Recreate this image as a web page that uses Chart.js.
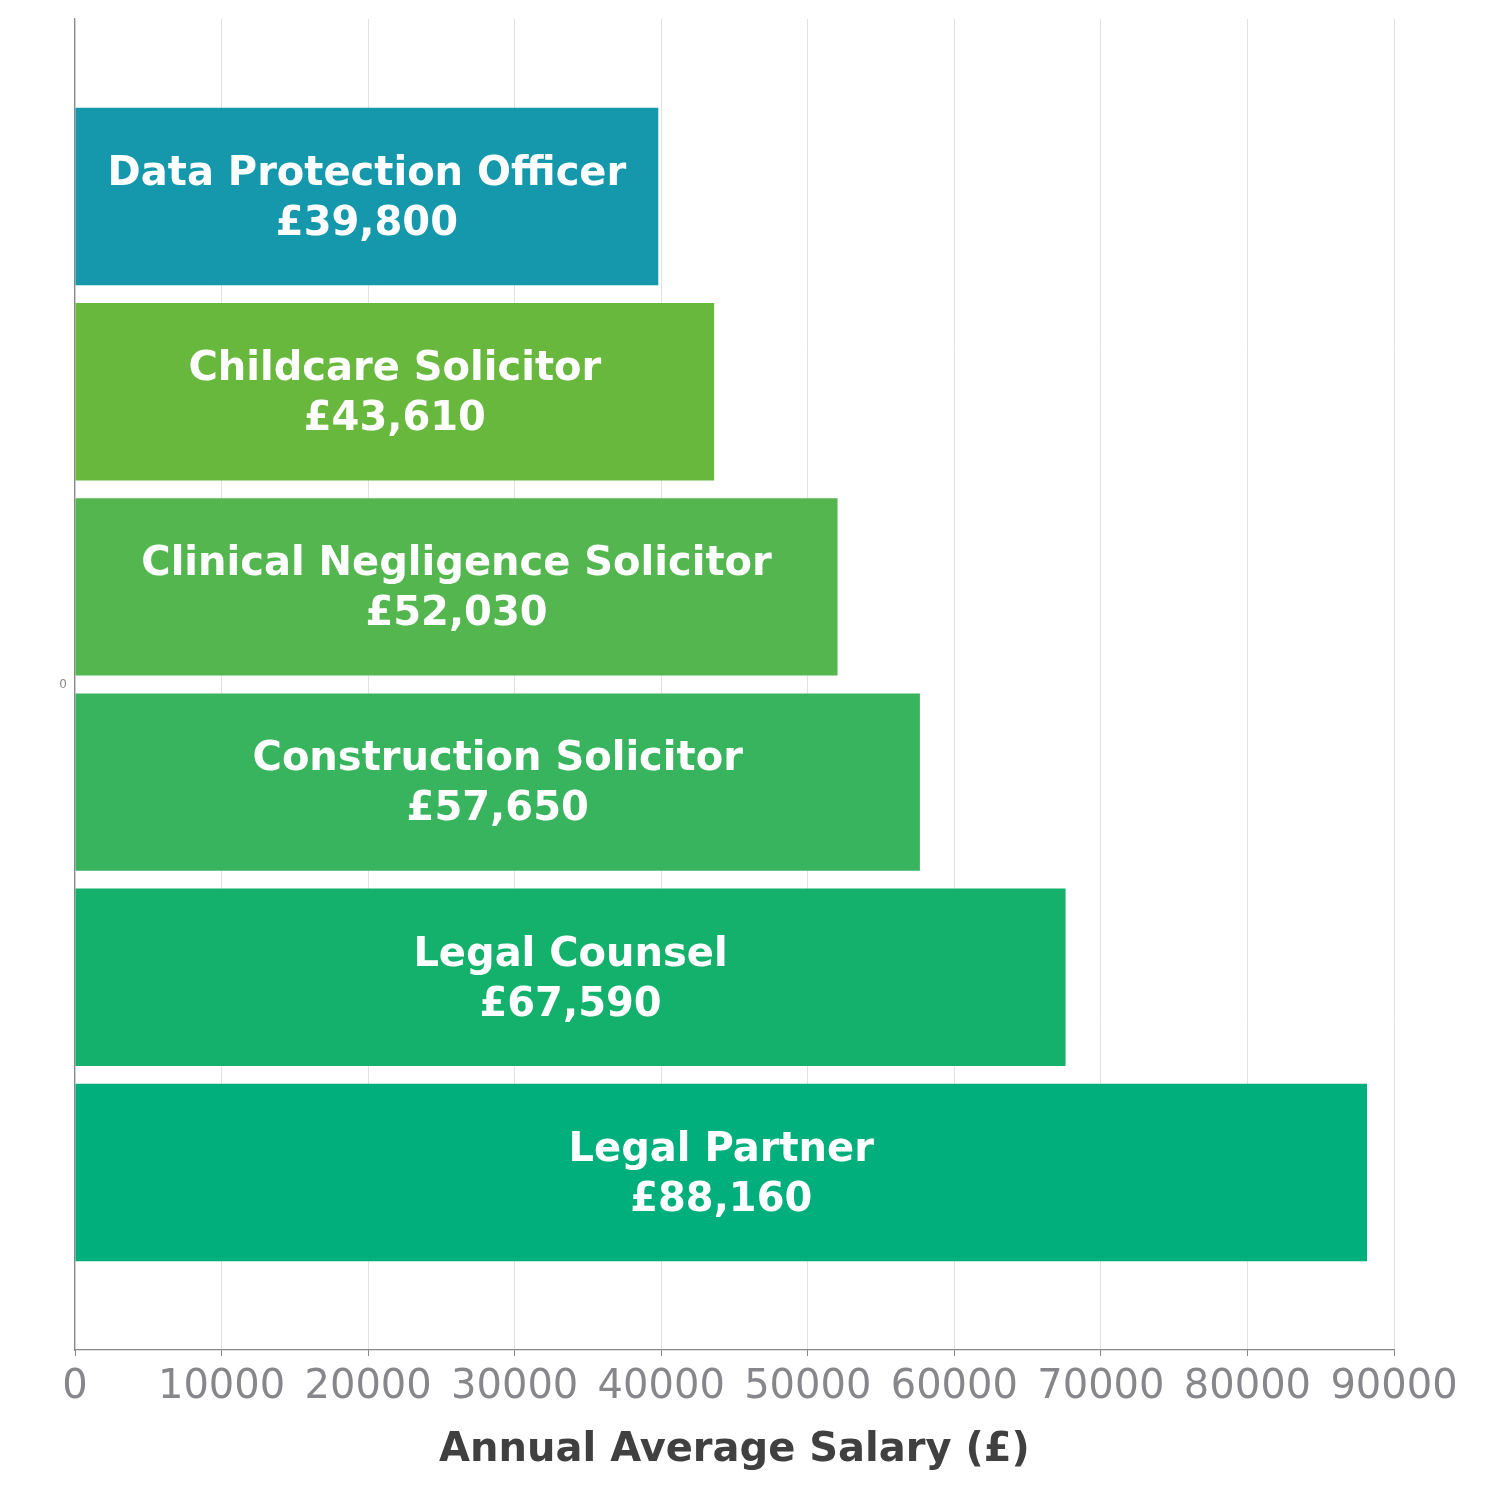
<!DOCTYPE html>
<html lang="en">
<head>
<meta charset="UTF-8">
<title>salary chart</title>
<script src="https://cdn.jsdelivr.net/npm/chart.js"></script>
<style>
  body { margin: 0; background: #fff; }
</style>
</head>
<body>
<canvas id="salaryChart" width="1500" height="1500"></canvas>
<script>
// data
const roles = ['Data Protection Officer', 'Childcare Solicitor', 'Clinical Negligence Solicitor',
               'Construction Solicitor', 'Legal Counsel', 'Legal Partner'];
const salaries = [39800, 43610, 52030, 57650, 67590, 88160];
const barColors = ['#1598ab', '#69b83e', '#53b64f', '#38b45e', '#14b16d', '#00af7c'];
const groupLabels = ['0'];

// white two-line label in the middle of each bar
const barText = {
    id: 'barText',
    afterDatasetsDraw(chart) {
        const ctx = chart.ctx;
        ctx.save();
        ctx.fillStyle = '#ffffff';
        ctx.font = 'bold 40px "DejaVu Sans"';
        ctx.textAlign = 'center';
        ctx.textBaseline = 'middle';
        chart.data.datasets.forEach((ds, i) => {
            const bar = chart.getDatasetMeta(i).data[0];
            const cx = (bar.x + bar.base) / 2;
            ctx.fillText(roles[i], cx, bar.y - 22);
            ctx.fillText('£' + salaries[i].toLocaleString('en-GB'), cx, bar.y + 28);
        });
        ctx.restore();
    }
};

Chart.defaults.font.family = '"DejaVu Sans", sans-serif';

new Chart(document.getElementById('salaryChart'), {
    type: 'bar',
    data: {
        labels: groupLabels,
        datasets: roles.map((r, i) => ({
            label: r,
            data: [salaries[i]],
            backgroundColor: barColors[i],
            categoryPercentage: 0.88,
            barPercentage: 0.909
        }))
    },
    options: {
        responsive: false,
        animation: false,
        indexAxis: 'y',
        layout: { padding: { top: 19, right: 106, left: 0, bottom: 0 } },
        plugins: { legend: { display: false }, tooltip: { enabled: false } },
        scales: {
            y: {
                grid: { display: false },
                border: { color: '#888888', width: 1.2 },
                ticks: { color: '#888888', font: { size: 12 }, padding: 0 },
                afterFit(scale) { scale.width = 75; }
            },
            x: {
                min: 0,
                max: 90000,
                ticks: {
                    stepSize: 10000,
                    color: '#87878b',
                    font: { size: 40 },
                    padding: 8,
                    callback: v => String(v)
                },
                grid: { color: '#e2e2e2', tickColor: '#888888', tickLength: 6 },
                border: { color: '#888888', width: 1.2 },
                title: {
                    display: true,
                    text: 'Annual Average Salary (£)',
                    color: '#404040',
                    font: { size: 40, weight: 'bold' },
                    padding: { top: 0, bottom: 25 }
                },
                afterFit(scale) { scale.height = 150; }
            }
        }
    },
    plugins: [barText]
});
</script>
</body>
</html>
